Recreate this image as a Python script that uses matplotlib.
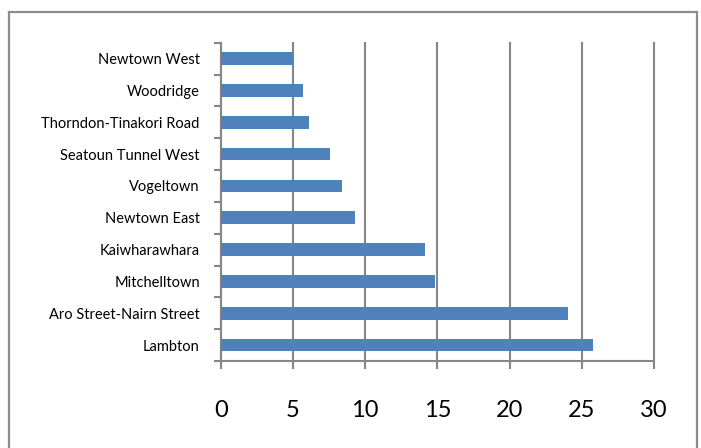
import matplotlib.pyplot as plt
from matplotlib.lines import Line2D

suburbs = ["Newtown West", "Woodridge", "Thorndon-Tinakori Road", "Seatoun Tunnel West",
           "Vogeltown", "Newtown East", "Kaiwharawhara", "Mitchelltown",
           "Aro Street-Nairn Street", "Lambton"]
values = [4.98, 5.67, 6.10, 7.60, 8.43, 9.28, 14.12, 14.81, 24.07, 25.75]
x_ticks = [0, 5, 10, 15, 20, 25, 30]

plt.rcParams['font.family'] = ['Lato', 'DejaVu Sans']
grey = "#868686"

fig = plt.figure(figsize=(7.01, 4.48), dpi=100)
ax = fig.add_axes([0.3148, 0.1942, 0.6183, 0.7105])

pos = list(range(len(suburbs)))
ax.barh(pos, values, height=0.4, color="#4F81BD", zorder=3)

ax.set_ylim(-0.5, len(suburbs) - 0.5)
ax.invert_yaxis()
ax.set_xlim(0, 30)
ax.set_xticks(x_ticks)
ax.set_xticklabels([str(t) for t in x_ticks], fontsize=17)
ax.set_yticks(pos)
ax.set_yticklabels(suburbs, fontsize=10.5)
ax.set_yticks([p - 0.5 for p in pos] + [len(pos) - 0.5], minor=True)

ax.tick_params(axis="y", which="major", length=0, pad=15)
ax.tick_params(axis="y", which="minor", length=5, width=1.5, color=grey, direction="out")
ax.tick_params(axis="x", length=6, width=1.5, color=grey, pad=22)

ax.xaxis.grid(True, color=grey, linewidth=1.5, zorder=0)
for gl in ax.get_xgridlines():
    gl.set_clip_on(False)
ax.set_axisbelow(True)
for s in ["top", "right"]:
    ax.spines[s].set_visible(False)
for s in ["left", "bottom"]:
    ax.spines[s].set_color(grey)
    ax.spines[s].set_linewidth(1.5)

# outer chart frame
W, H = 701, 448
fx = lambda px: px / W
fy = lambda py: 1 - py / H
for xs, ys in [([9, 9], [12, 460]), ([9, 697], [12, 12]), ([697, 697], [12, 460])]:
    fig.add_artist(Line2D([fx(x) for x in xs], [fy(y) for y in ys],
                          color="#8c8c8c", linewidth=1.6))

fig.savefig("out.png", dpi=100)
